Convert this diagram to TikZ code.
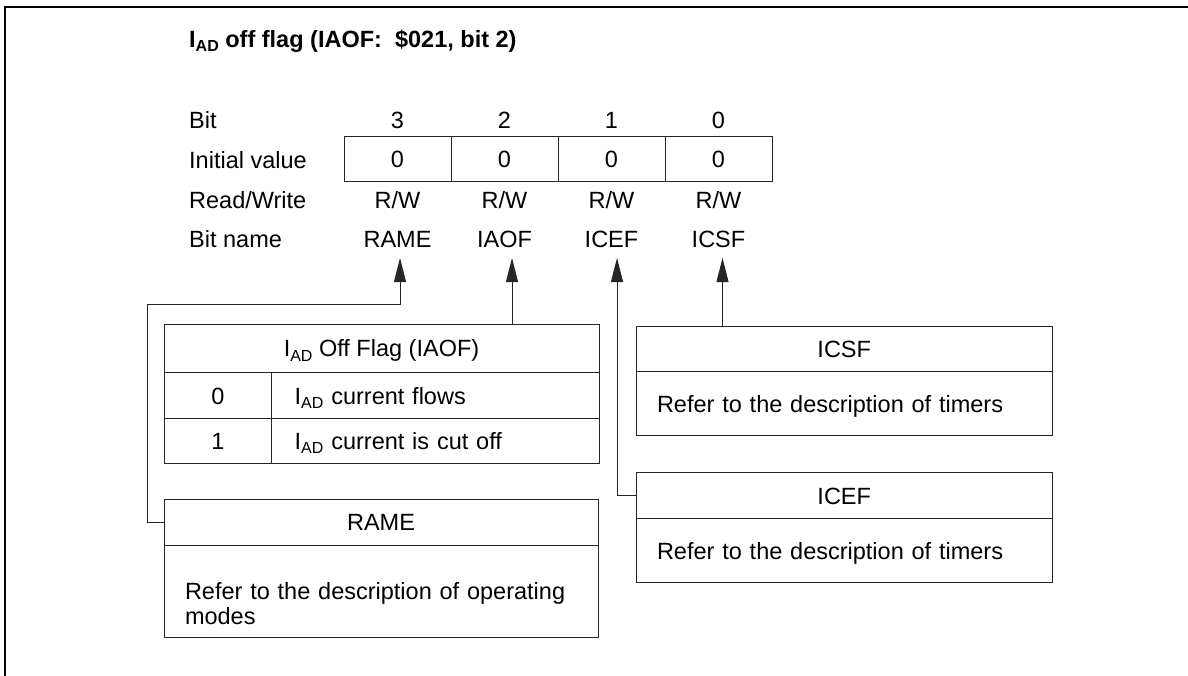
\documentclass[tikz,border=0pt]{standalone}
\usepackage{fontspec}
\setmainfont{Liberation Sans}
\usetikzlibrary{arrows.meta}
\newcommand\subAD{\raisebox{-4.5pt}{\fontsize{16}{16}\selectfont AD}}
\begin{document}
\begin{tikzpicture}[x=1pt,y=-1pt,
  txt/.style={inner sep=0pt, font=\fontsize{23.5}{25}\selectfont},
  lbl/.style={txt, anchor=base west},
  ctr/.style={txt, anchor=base},
  frm/.style={line width=2pt, line cap=rect},
  ln/.style={line width=1pt, black!85},
  cell/.style={txt, draw=black!85, line width=1pt, rectangle, outer sep=0pt,
    text height=17pt, text depth=0pt, align=center},
  lcell/.style={cell, align=left, inner ysep=0pt},
  arr/.style={ln, -{Triangle[length=24pt,width=12pt]}}
]
\useasboundingbox (0,0) rectangle (1188,675);
\draw[frm] (5,675) -- (5,7) -- (1188,7);

% title
\node[lbl, font=\bfseries\fontsize{23.5}{25}\selectfont] (title) at (189,47)
  {I\subAD{} off flag (IAOF:\ \ \$021, bit 2)};

% row labels
\node[lbl] (lBit)  at (189,128) {Bit};
\node[lbl] (lInit) at (189,168) {Initial value};
\node[lbl] (lRW)   at (189,208) {Read/Write};
\node[lbl] (lName) at (189,247) {Bit name};

% bit numbers
\node[ctr] (b3) at (397.5,128) {3};
\node[ctr] (b2) at (504.5,128) {2};
\node[ctr] (b1) at (611.5,128) {1};
\node[ctr] (b0) at (718.5,128) {0};

% initial values
\node[cell, minimum width=107pt, minimum height=45pt] (v3) at (397.5,158.5) {0};
\node[cell, minimum width=107pt, minimum height=45pt] (v2) at (504.5,158.5) {0};
\node[cell, minimum width=107pt, minimum height=45pt] (v1) at (611.5,158.5) {0};
\node[cell, minimum width=107pt, minimum height=45pt] (v0) at (718.5,158.5) {0};

% read/write
\node[ctr] (rw3) at (397.5,208) {R/W};
\node[ctr] (rw2) at (504.5,208) {R/W};
\node[ctr] (rw1) at (611.5,208) {R/W};
\node[ctr] (rw0) at (718.5,208) {R/W};

% bit names
\node[ctr] (nRAME) at (397.5,247) {RAME};
\node[ctr] (nIAOF) at (504.5,247) {IAOF};
\node[ctr] (nICEF) at (611.5,247) {ICEF};
\node[ctr] (nICSF) at (718.5,247) {ICSF};

% IAOF table
\node[cell, minimum width=435pt, minimum height=48.7pt] (iaofH) at (381.5,348.35)
  {I\subAD{} Off Flag (IAOF)};
\node[cell, minimum width=107.7pt, minimum height=45.6pt] (r0a) at (217.85,395.5) {0};
\node[lcell, inner xsep=23pt, text width=281.3pt, minimum height=45.6pt] (r0b) at (435.35,395.5)
  {I\subAD{} current flows};
\node[cell, minimum width=107.7pt, minimum height=45pt] (r1a) at (217.85,440.8) {1};
\node[lcell, inner xsep=23pt, text width=281.3pt, minimum height=45pt] (r1b) at (435.35,440.8)
  {I\subAD{} current is cut off};

% ICSF box
\node[cell, minimum width=416.5pt, minimum height=45.7pt] (icsfH) at (844.25,348.85) {ICSF};
\node[lcell, inner xsep=21pt, text width=374.5pt, minimum height=64pt] (icsfB) at (844.25,403.7)
  {Refer to the description of timers};

% ICEF box
\node[cell, minimum width=416.5pt, minimum height=46pt] (icefH) at (844.25,495.7) {ICEF};
\node[lcell, inner xsep=21pt, text width=374.5pt, minimum height=64pt] (icefB) at (844.25,550.7)
  {Refer to the description of timers};

% RAME box
\node[cell, minimum width=434pt, minimum height=46pt] (rameH) at (381,522) {RAME};
\node[lcell, inner xsep=21pt, text width=392pt, minimum height=92pt] (rameB) at (381,591)
  {Refer to the description of operating\\modes};

% arrow tips and bends
\coordinate (tRAME) at (400,258);
\coordinate (kRAME) at (400,304.5);
\coordinate (tIAOF) at (512,258);
\coordinate (tICEF) at (617,258);
\coordinate (tICSF) at (722.5,258);

\draw[arr] (rameH.west) -- ++(-16.5,0) |- (kRAME) -- (tRAME);
\draw[arr] (iaofH.north -| tIAOF) -- (tIAOF);
\draw[arr] (icefH.west) -| (tICEF);
\draw[arr] (icsfH.north -| tICSF) -- (tICSF);
\end{tikzpicture}
\end{document}
